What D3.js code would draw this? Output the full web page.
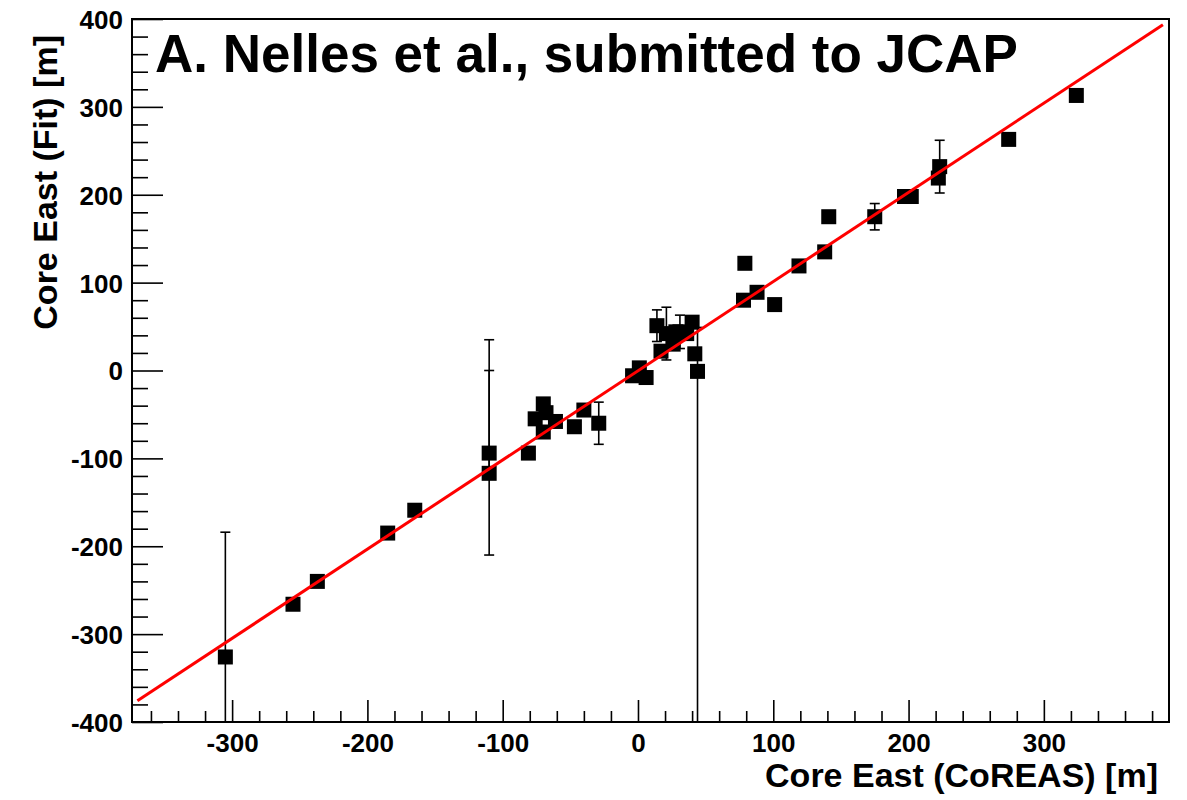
<!doctype html>
<html>
<head>
<meta charset="utf-8">
<title>Core East: Fit vs CoREAS</title>
<script src="https://d3js.org/d3.v7.min.js"></script>
<style>
  body { margin: 0; background: #fff; }
  text { font-family: "Liberation Sans", Arial, Helvetica, sans-serif; font-weight: bold; fill: #000; }
</style>
</head>
<body>
<svg id="plot"></svg>
<script>
// core position east, CoREAS (x) vs fit (y), in metres
var coreasX = [-305, -255, -237, -185, -165, -110, -110, -81, -76, -70, -68, -70, -61, -47, -40, -29,
               -4, 1, 6, 14, 21, 31, 17, 26, 28, 36, 40, 42, 44,
               78, 79, 88, 101, 119, 138, 141, 175, 197, 202, 222, 223, 274, 324];
var fitY    = [-326, -266, -240, -185, -159, -94, -117, -94, -55, -38, -48, -70, -58, -64, -45, -60,
               -6, 3, -8, 51, 42, 44, 22, 30, 44, 42, 55, 19, -1,
               80, 122, 89, 75, 119, 135, 175, 175, 198, 198, 219, 232, 263, 313];
// errors on the fit, upper and lower (0 = none drawn)
var errHi   = [142, 0, 0, 0, 0, 129, 117, 0, 0, 0, 0, 0, 0, 0, 0, 24,
               0, 0, 0, 18, 30, 19, 0, 0, 0, 0, 0, 0, 50,
               0, 0, 0, 0, 0, 0, 0, 15, 0, 0, 0, 30, 0, 0];
var errLo   = [142, 0, 0, 0, 0, 116, 0, 0, 0, 0, 0, 0, 0, 0, 0, 24,
               0, 0, 0, 18, 30, 19, 0, 0, 0, 0, 0, 0, 500,
               0, 0, 0, 0, 0, 0, 0, 15, 0, 0, 0, 30, 0, 0];
// straight-line fit
var fitSlope = 1.015, fitIntercept = -0.3, fitRange = [-370, 388];

var xTicks = [-300, -200, -100, 0, 100, 200, 300];
var yTicks = [-400, -300, -200, -100, 0, 100, 200, 300, 400];

(function() {
var W = 1187, H = 800;
var mLeft = 132, mRight = 1169, mTop = 19, mBottom = 722;

var svg = d3.select("#plot").attr("width", W).attr("height", H);

var x = d3.scaleLinear().domain([-374, 392.5]).range([mLeft, mRight]);
var y = d3.scaleLinear().domain([-400, 400]).range([mBottom, mTop]);
var fmt = function(v) { return String(v); };

var points = coreasX.map(function(v, i) {
    return {x: v, y: fitY[i], hi: errHi[i], lo: errLo[i]};
});

svg.append("clipPath").attr("id", "clip")
    .append("rect").attr("x", mLeft).attr("y", mTop)
    .attr("width", mRight - mLeft).attr("height", mBottom - mTop);

var g = svg.append("g").attr("clip-path", "url(#clip)");

// error bars
var eb = g.selectAll(".err").data(points.filter(function(d) { return d.hi > 0 || d.lo > 0; }))
    .enter().append("g").attr("class", "err");
eb.append("line")
    .attr("x1", function(d) { return x(d.x); }).attr("x2", function(d) { return x(d.x); })
    .attr("y1", function(d) { return y(d.y + d.hi); }).attr("y2", function(d) { return y(d.y - d.lo); })
    .attr("stroke", "#000").attr("stroke-width", 1.6);
eb.filter(function(d) { return d.hi > 0; }).append("line")
    .attr("x1", function(d) { return x(d.x) - 5; }).attr("x2", function(d) { return x(d.x) + 5; })
    .attr("y1", function(d) { return y(d.y + d.hi); }).attr("y2", function(d) { return y(d.y + d.hi); })
    .attr("stroke", "#000").attr("stroke-width", 1.6);
eb.filter(function(d) { return d.lo > 0; }).append("line")
    .attr("x1", function(d) { return x(d.x) - 5; }).attr("x2", function(d) { return x(d.x) + 5; })
    .attr("y1", function(d) { return y(d.y - d.lo); }).attr("y2", function(d) { return y(d.y - d.lo); })
    .attr("stroke", "#000").attr("stroke-width", 1.6);

// markers
var ms = 15;
g.selectAll(".pt").data(points).enter().append("rect")
    .attr("x", function(d) { return x(d.x) - ms / 2; })
    .attr("y", function(d) { return y(d.y) - ms / 2; })
    .attr("width", ms).attr("height", ms)
    .attr("fill", "#000");

// fit line
svg.append("line")
    .attr("x1", x(fitRange[0])).attr("y1", y(fitSlope * fitRange[0] + fitIntercept))
    .attr("x2", x(fitRange[1])).attr("y2", y(fitSlope * fitRange[1] + fitIntercept))
    .attr("stroke", "#ff0000").attr("stroke-width", 3);

// axes, ticks pointing inward
var xMinor = d3.range(-360, 392, 20).filter(function(v) { return v % 100 !== 0; });
var yMinor = d3.range(-380, 400, 20).filter(function(v) { return v % 100 !== 0; });

svg.append("g").attr("transform", "translate(0," + mBottom + ")")
    .call(d3.axisBottom(x).tickValues(xMinor).tickSize(-11).tickFormat(""))
    .call(function(a) { a.select(".domain").remove(); });
svg.append("g").attr("transform", "translate(0," + mBottom + ")")
    .call(d3.axisBottom(x).tickValues(xTicks).tickSize(-22).tickPadding(12).tickFormat(fmt))
    .call(function(a) {
        a.select(".domain").remove();
        a.selectAll("text").attr("font-size", 26).attr("dy", "0.71em");
    });

svg.append("g").attr("transform", "translate(" + mLeft + ",0)")
    .call(d3.axisLeft(y).tickValues(yMinor).tickSize(-16).tickFormat(""))
    .call(function(a) { a.select(".domain").remove(); });
svg.append("g").attr("transform", "translate(" + mLeft + ",0)")
    .call(d3.axisLeft(y).tickValues(yTicks).tickSize(-31).tickPadding(9).tickFormat(fmt))
    .call(function(a) {
        a.select(".domain").remove();
        a.selectAll("text").attr("font-size", 26).attr("dy", "0.36em");
    });

svg.selectAll(".tick line").attr("stroke", "#000").attr("stroke-width", 1.6);
svg.selectAll(".tick text").attr("fill", "#000")
    .style("font-family", "'Liberation Sans', Arial, sans-serif").style("font-weight", "bold");

// frame
svg.append("rect").attr("x", mLeft).attr("y", mTop)
    .attr("width", mRight - mLeft).attr("height", mBottom - mTop)
    .attr("fill", "none").attr("stroke", "#000").attr("stroke-width", 2);

// axis titles
svg.append("text").attr("x", 1158).attr("y", 787)
    .attr("text-anchor", "end").attr("font-size", 34)
    .text("Core East (CoREAS) [m]");
svg.append("text").attr("transform", "translate(57,35) rotate(-90)")
    .attr("text-anchor", "end").attr("font-size", 34)
    .text("Core East (Fit) [m]");

// label
svg.append("text").attr("x", 155).attr("y", 72)
    .attr("font-size", 53)
    .text("A. Nelles et al., submitted to JCAP");
})();
</script>
</body>
</html>
